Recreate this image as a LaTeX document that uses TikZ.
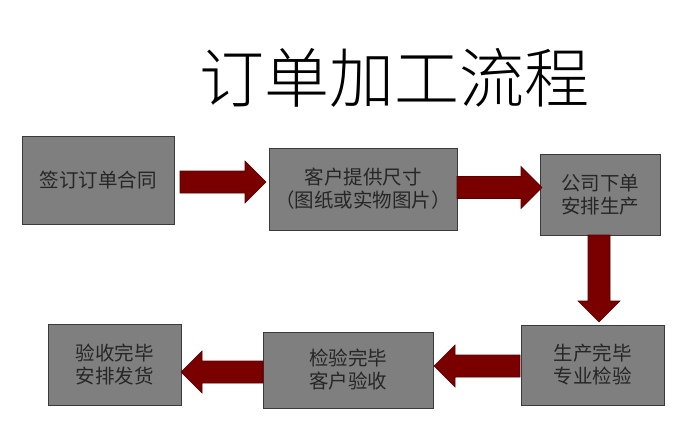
\documentclass[tikz,border=0pt]{standalone}
\usepackage{fontspec}
\newfontfamily\cjk{Noto Sans CJK SC}
\newfontfamily\cjklight{Noto Sans CJK SC}[UprightFont={* Light}]
\usetikzlibrary{calc}
\definecolor{boxgray}{HTML}{7F7F7F}
\definecolor{boxline}{HTML}{3A3A3A}
\definecolor{arrowred}{HTML}{7A0000}
\definecolor{arrowline}{HTML}{560000}
\definecolor{txt}{HTML}{262626}
\tikzset{
  stepbox/.style={draw=boxline, line width=1pt, fill=boxgray, inner sep=0pt,
    text=txt, font=\cjk\fontsize{19.5pt}{23pt}\selectfont, align=center},
  blockarrow/.style={fill=arrowred, draw=arrowline, line width=0.6pt,
    to path={let \p1=(\tikztostart), \p2=(\tikztotarget),
      \n1={atan2(\y2-\y1,\x2-\x1)}, \n2={veclen(\x2-\x1,\y2-\y1)},
      \n3={\n2-21} in
      ($(\p1)+(\n1+90:11pt)$) -- ($(\p1)+(\n1:\n3)+(\n1+90:11pt)$)
      -- ($(\p1)+(\n1:\n3)+(\n1+90:21pt)$) -- (\p2)
      -- ($(\p1)+(\n1:\n3)+(\n1-90:21pt)$) -- ($(\p1)+(\n1:\n3)+(\n1-90:11pt)$)
      -- ($(\p1)+(\n1-90:11pt)$) -- cycle}}
}
\begin{document}
\begin{tikzpicture}[x=1pt,y=-1pt]
\fill[white] (0,0) rectangle (682,434);
\useasboundingbox (0,0) rectangle (682,434);
\node[font=\cjklight\fontsize{65pt}{70pt}\selectfont, text=black] (title) at (394.5,78) {订单加工流程};
\node[stepbox, minimum width=152pt, minimum height=88pt] (b1) at (98,180) {签订订单合同};
\node[stepbox, minimum width=188pt, minimum height=82pt] (b2) at (363,189) {客户提供尺寸\\（图纸或实物图片）};
\node[stepbox, minimum width=120pt, minimum height=81pt] (b3) at (600,194.5) {公司下单\\安排生产};
\node[stepbox, minimum width=143pt, minimum height=80pt] (b4) at (592.5,365) {生产完毕\\专业检验};
\node[stepbox, minimum width=170pt, minimum height=76pt] (b5) at (348,370) {检验完毕\\客户验收};
\node[stepbox, minimum width=133pt, minimum height=81pt] (b6) at (114.5,364.5) {验收完毕\\安排发货};
\coordinate (a1s) at (180,182);   \coordinate (a1e) at (266,182);
\coordinate (a2s) at (457,187.5); \coordinate (a2e) at (542,187.5);
\coordinate (a3s) at (599,235);   \coordinate (a3e) at (599,322);
\coordinate (a4s) at (520,366);   \coordinate (a4e) at (434,366);
\coordinate (a5s) at (263,372);   \coordinate (a5e) at (181,372);
\path[blockarrow] (a1s) to (a1e);
\path[blockarrow] (a2s) to (a2e);
\path[blockarrow] (a3s) to (a3e);
\path[blockarrow] (a4s) to (a4e);
\path[blockarrow] (a5s) to (a5e);
\end{tikzpicture}
\end{document}
